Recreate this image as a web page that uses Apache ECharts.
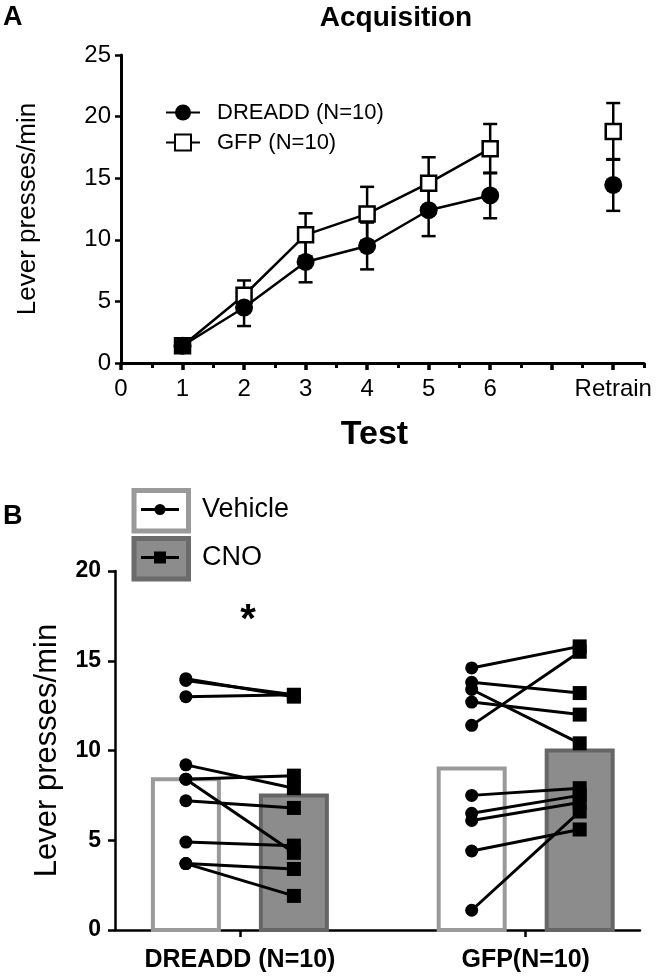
<!DOCTYPE html>
<html><head><meta charset="utf-8">
<script src="https://cdn.jsdelivr.net/npm/echarts@6/dist/echarts.min.js"></script>
<style>html,body{margin:0;padding:0;background:#fff}#c{width:656px;height:976px}</style>
</head><body><div id="c"></div>
<script>
const FONT = '"Liberation Sans", Arial, Helvetica, sans-serif';
// ---------- Panel A data ----------
const testLabels = ['1', '2', '3', '4', '5', '6', 'Retrain'];
const testX = [1, 2, 3, 4, 5, 6, 8];
const dreaddMean = [1.4, 4.5, 8.2, 9.5, 12.4, 13.6, 14.45];
const dreaddSem = [0.3, 1.5, 1.65, 1.9, 2.1, 1.85, 2.1];
const gfpMean = [1.4, 5.5, 10.4, 12.1, 14.6, 17.4, 18.8];
const gfpSem = [0.3, 1.2, 1.75, 2.2, 2.1, 2.0, 2.3];
// ---------- Panel B data ----------
const groups = ['DREADD (N=10)', 'GFP(N=10)'];
const vehicleMean = [8.4, 9.0];
const cnoMean = [7.5, 10.0];
const dreaddVehicle = [14.0, 13.9, 13.0, 9.2, 8.4, 8.4, 7.2, 4.9, 3.7, 3.7];
const dreaddCNO = [13.0, 13.1, 13.1, 7.9, 8.6, 4.3, 6.8, 4.7, 3.4, 1.9];
const gfpVehicle = [14.6, 13.8, 13.4, 12.7, 11.4, 7.5, 6.5, 6.1, 4.4, 1.1];
const gfpCNO = [15.8, 13.2, 10.4, 12.0, 15.5, 7.9, 7.5, 7.1, 5.6, 6.6];

const chart = echarts.init(document.getElementById('c'), null, { renderer: 'canvas' });

function errRender(params, api) {
  const x = api.value(0), m = api.value(1), s = api.value(2);
  const hi = api.coord([x, m + s]), lo = api.coord([x, m - s]);
  const w = 7;
  const st = { stroke: '#000', lineWidth: 2.5 };
  return { type: 'group', children: [
    { type: 'line', shape: { x1: hi[0], y1: hi[1], x2: lo[0], y2: lo[1] }, style: st },
    { type: 'line', shape: { x1: hi[0] - w, y1: hi[1], x2: hi[0] + w, y2: hi[1] }, style: st },
    { type: 'line', shape: { x1: lo[0] - w, y1: lo[1], x2: lo[0] + w, y2: lo[1] }, style: st }
  ]};
}
const OFF = 54;
function barRender(offset, fill, stroke) {
  return function (params, api) {
    const x = api.value(0), v = api.value(1);
    const top = api.coord([x, v]), base = api.coord([x, 0]);
    return { type: 'rect', shape: { x: top[0] + offset - 33, y: top[1], width: 66, height: base[1] - top[1] },
      style: { fill: fill, stroke: stroke, lineWidth: 4 } };
  };
}
function pairRender(params, api) {
  const x = api.value(0);
  const a = api.coord([x, api.value(1)]), b = api.coord([x, api.value(2)]);
  const ax = a[0] - OFF, bx = b[0] + OFF;
  return { type: 'group', children: [
    { type: 'line', shape: { x1: ax, y1: a[1], x2: bx, y2: b[1] }, style: { stroke: '#000', lineWidth: 3 } },
    { type: 'circle', shape: { cx: ax, cy: a[1], r: 6.5 }, style: { fill: '#000' } },
    { type: 'rect', shape: { x: bx - 7, y: b[1] - 7, width: 14, height: 14 }, style: { fill: '#000' } }
  ]};
}

const lineA = { color: '#000', width: 3 };
const option = {
  animation: false,
  textStyle: { fontFamily: FONT, color: '#000' },
  grid: [
    { left: 121, top: 55, width: 523, height: 308 },
    { left: 115, top: 571, width: 525, height: 359 }
  ],
  legend: {
    show: true, left: 160, top: 95, orient: 'vertical', selectedMode: false,
    itemWidth: 34, itemHeight: 20, itemGap: 5,
    textStyle: { fontFamily: FONT, fontSize: 22, color: '#000', lineHeight: 25, padding: [0, 0, 0, 12] },
    data: ['DREADD (N=10)', 'GFP (N=10)']
  },
  xAxis: [
    { gridIndex: 0, type: 'value', min: 0, max: 8.5,
      axisLine: { lineStyle: lineA }, splitLine: { show: false },
      axisTick: { customValues: [0, 1, 2, 3, 4, 5, 6, 7, 8], length: 7, lineStyle: { color: '#000', width: 3.5 } },
      axisLabel: { customValues: [0].concat(testX), margin: 14, fontSize: 24, color: '#000', fontFamily: FONT,
        formatter: v => v === 0 ? '0' : testLabels[testX.indexOf(v)] },
      name: 'Test', nameLocation: 'middle', nameGap: 55,
      nameTextStyle: { fontSize: 34, fontWeight: 'bold', color: '#000', fontFamily: FONT, padding: [0, 16, 0, 0] } },
    { gridIndex: 0, type: 'value', min: 0, max: 8.5, position: 'bottom',
      axisLine: { show: false }, splitLine: { show: false },
      axisTick: { customValues: [0.5, 1.5, 2.5, 3.5, 4.5, 5.5, 6.5, 7.5, 8.5], length: 5, lineStyle: { color: '#000', width: 3 } },
      axisLabel: { show: false } },
    { gridIndex: 1, type: 'value', min: 0.563, max: 2.4,
      axisLine: { lineStyle: { color: '#000', width: 2.5 } }, splitLine: { show: false },
      axisTick: { customValues: [1, 2], length: 7, lineStyle: { color: '#000', width: 2.5 } },
      axisLabel: { customValues: [1, 2], margin: 18, fontSize: 25, fontWeight: 'bold', color: '#000', fontFamily: FONT,
        formatter: v => groups[v - 1] } }
  ],
  yAxis: [
    { gridIndex: 0, type: 'value', min: 0, max: 25, interval: 5,
      axisLine: { show: true, lineStyle: lineA }, splitLine: { show: false },
      axisTick: { show: true, length: 6, lineStyle: { color: '#000', width: 2.5 } },
      axisLabel: { margin: 10, fontSize: 24, color: '#000', fontFamily: FONT },
      name: 'Lever presses/min', nameLocation: 'middle', nameGap: 80,
      nameTextStyle: { fontSize: 26, color: '#000', fontFamily: FONT } },
    { gridIndex: 1, type: 'value', min: 0, max: 20, interval: 5,
      axisLine: { show: true, lineStyle: { color: '#000', width: 2.5 } }, splitLine: { show: false },
      axisTick: { show: true, length: 7, lineStyle: { color: '#000', width: 2.5 } },
      axisLabel: { margin: 14, fontSize: 23, fontWeight: 'bold', color: '#000', fontFamily: FONT },
      name: 'Lever presses/min', nameLocation: 'middle', nameGap: 52,
      nameTextStyle: { fontSize: 31, color: '#000', fontFamily: FONT } }
  ],
  series: [
    { type: 'custom', xAxisIndex: 0, yAxisIndex: 0, z: 2, encode: { x: 0, y: 1 },
      data: testX.map((x, i) => [x, gfpMean[i], gfpSem[i]]), renderItem: errRender },
    { type: 'custom', xAxisIndex: 0, yAxisIndex: 0, z: 2, encode: { x: 0, y: 1 },
      data: testX.map((x, i) => [x, dreaddMean[i], dreaddSem[i]]), renderItem: errRender },
    { type: 'line', name: 'GFP (N=10)', xAxisIndex: 0, yAxisIndex: 0, z: 3,
      data: testX.slice(0, 6).map((x, i) => [x, gfpMean[i]]),
      symbol: 'rect', symbolSize: 15, showAllSymbol: true,
      lineStyle: { color: '#000', width: 2.5 }, itemStyle: { color: '#fff', borderColor: '#000', borderWidth: 2.5, opacity: 1 } },
    { type: 'scatter', name: 'GFP (N=10)', xAxisIndex: 0, yAxisIndex: 0, z: 3,
      data: [[testX[6], gfpMean[6]]], symbol: 'rect', symbolSize: 15,
      itemStyle: { color: '#fff', borderColor: '#000', borderWidth: 2.5, opacity: 1 } },
    { type: 'line', name: 'DREADD (N=10)', xAxisIndex: 0, yAxisIndex: 0, z: 4,
      data: testX.slice(0, 6).map((x, i) => [x, dreaddMean[i]]),
      symbol: 'circle', symbolSize: 18, showAllSymbol: true,
      lineStyle: { color: '#000', width: 2.5 }, itemStyle: { color: '#000', opacity: 1 } },
    { type: 'scatter', name: 'DREADD (N=10)', xAxisIndex: 0, yAxisIndex: 0, z: 4,
      data: [[testX[6], dreaddMean[6]]], symbol: 'circle', symbolSize: 18, itemStyle: { color: '#000', opacity: 1 } },
    // Panel B
    { type: 'custom', xAxisIndex: 2, yAxisIndex: 1, z: 2, encode: { x: 0, y: 1 },
      data: vehicleMean.map((v, i) => [i + 1, v]), renderItem: barRender(-OFF, '#fff', '#9a9a9a') },
    { type: 'custom', xAxisIndex: 2, yAxisIndex: 1, z: 2, encode: { x: 0, y: 1 },
      data: cnoMean.map((v, i) => [i + 1, v]), renderItem: barRender(OFF, '#8c8c8c', '#666') },
    { type: 'custom', xAxisIndex: 2, yAxisIndex: 1, z: 5, encode: { x: 0, y: [1, 2] },
      data: dreaddVehicle.map((v, i) => [1, v, dreaddCNO[i]]).concat(gfpVehicle.map((v, i) => [2, v, gfpCNO[i]])),
      renderItem: pairRender }
  ],
  graphic: [
    { type: 'text', left: 3, top: 4, style: { text: 'A', font: 'bold 27px ' + FONT, fill: '#000' } },
    { type: 'text', x: 396, y: 18, style: { text: 'Acquisition', font: 'bold 28px ' + FONT, fill: '#000', textAlign: 'center', textVerticalAlign: 'middle' } },
    { type: 'text', left: 3, top: 503, style: { text: 'B', font: 'bold 27px ' + FONT, fill: '#000' } },
    // legend B
    { type: 'rect', shape: { x: 134, y: 490.5, width: 54.5, height: 40.5 }, style: { fill: '#fff', stroke: '#9a9a9a', lineWidth: 5 } },
    { type: 'rect', shape: { x: 134, y: 538.5, width: 54.5, height: 40.5 }, style: { fill: '#8c8c8c', stroke: '#6b6b6b', lineWidth: 5 } },
    { type: 'line', shape: { x1: 141, y1: 509.5, x2: 179, y2: 509.5 }, style: { stroke: '#000', lineWidth: 3 } },
    { type: 'circle', shape: { cx: 160, cy: 509.5, r: 5.5 }, style: { fill: '#000' } },
    { type: 'line', shape: { x1: 141, y1: 557.5, x2: 179, y2: 557.5 }, style: { stroke: '#000', lineWidth: 3 } },
    { type: 'rect', shape: { x: 154, y: 551.5, width: 12, height: 12 }, style: { fill: '#000' } },
    { type: 'text', x: 202, y: 510, style: { text: 'Vehicle', font: '27px ' + FONT, fill: '#000', textVerticalAlign: 'middle' } },
    { type: 'text', x: 202, y: 558, style: { text: 'CNO', font: '27px ' + FONT, fill: '#000', textVerticalAlign: 'middle' } },
    { type: 'text', x: 248, y: 621, style: { text: '*', font: 'bold 40px ' + FONT, fill: '#000', textAlign: 'center', textVerticalAlign: 'middle' } }
  ]
};
chart.setOption(option);
</script>
</body></html>
